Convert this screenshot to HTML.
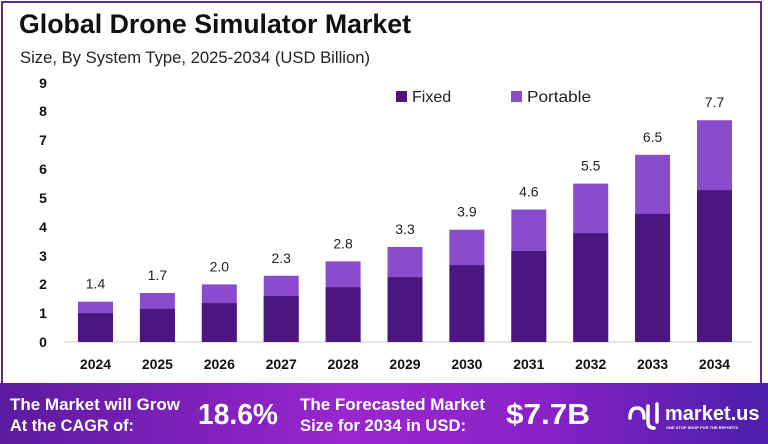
<!DOCTYPE html>
<html><head><meta charset="utf-8"><style>
body{margin:0;width:768px;height:444px;overflow:hidden;background:#fff;font-family:"Liberation Sans",sans-serif;}
.frame{position:absolute;left:1px;top:1px;width:761px;height:440px;border:2px solid #5b2a8c;box-sizing:border-box;}
</style></head><body>
<div class="frame"></div>
<svg width="768" height="444" style="position:absolute;left:0;top:0">
<defs>
<linearGradient id="bg" x1="0" x2="1" y1="0" y2="0">
<stop offset="0" stop-color="#5c1aa0"/><stop offset="0.45" stop-color="#9a26cf"/><stop offset="0.7" stop-color="#8a22c8"/><stop offset="1" stop-color="#4a1ea8"/>
</linearGradient>
</defs>
<text x="19" y="33" font-size="27" font-weight="bold" fill="#111" textLength="392" lengthAdjust="spacingAndGlyphs">Global Drone Simulator Market</text>
<text x="20" y="63" font-size="17" fill="#222" textLength="350" lengthAdjust="spacingAndGlyphs">Size, By System Type, 2025-2034 (USD Billion)</text>
<g font-size="14" font-weight="bold" fill="#111" text-anchor="middle">
<text x="43" y="347">0</text><text x="43" y="318">1</text><text x="43" y="289">2</text><text x="43" y="261">3</text><text x="43" y="232">4</text><text x="43" y="203">5</text><text x="43" y="174">6</text><text x="43" y="145">7</text><text x="43" y="116">8</text><text x="43" y="88">9</text>
</g>
<line x1="64" y1="342" x2="752" y2="342" stroke="#ccc" stroke-width="1"/>
<rect x="396" y="91" width="11" height="11" fill="#4c1680"/><text x="412" y="102" font-size="16" fill="#222">Fixed</text>
<rect x="511" y="91" width="11" height="11" fill="#8a4ccc"/><text x="527" y="102" font-size="16" fill="#222" textLength="64" lengthAdjust="spacingAndGlyphs">Portable</text>
<g id="bars"></g>
<rect x="0" y="383" width="768" height="61" fill="url(#bg)"/>
<g fill="#fff" font-weight="bold">
<text x="10" y="410" font-size="16.5" textLength="170" lengthAdjust="spacingAndGlyphs">The Market will Grow</text>
<text x="10" y="431" font-size="16.5" textLength="124" lengthAdjust="spacingAndGlyphs">At the CAGR of:</text>
<text x="198" y="424" font-size="29" textLength="80" lengthAdjust="spacingAndGlyphs">18.6%</text>
<text x="300" y="410" font-size="16.5" textLength="185" lengthAdjust="spacingAndGlyphs">The Forecasted Market</text>
<text x="300" y="431" font-size="16.5" textLength="166" lengthAdjust="spacingAndGlyphs">Size for 2034 in USD:</text>
<text x="506" y="424" font-size="29" textLength="84" lengthAdjust="spacingAndGlyphs">$7.7B</text>
<text x="665" y="420" font-size="20">market.us</text>
<text x="666" y="429" font-size="4">ONE STOP SHOP FOR THE REPORTS</text>
</g>
<path d="M630 418 q0-10 7-10 q7 0 7 10 M648 406 v16 q0 6 6 6 M657 404 v18" stroke="#fff" stroke-width="3.5" fill="none" stroke-linecap="round"/>
</svg>
<script>
var tot=[1.4,1.7,2.0,2.3,2.8,3.3,3.9,4.6,5.5,6.5,7.7],fx=[1.0,1.15,1.35,1.6,1.9,2.25,2.67,3.16,3.78,4.45,5.27];
var s='';for(var i=0;i<11;i++){var x=78+61.9*i,b=342,k=28.8;
s+='<rect x="'+x+'" y="'+(b-tot[i]*k)+'" width="35" height="'+(tot[i]*k)+'" fill="#8a4ccc"/>';
s+='<rect x="'+x+'" y="'+(b-fx[i]*k)+'" width="35" height="'+(fx[i]*k)+'" fill="#4c1680"/>';
s+='<text x="'+(x+17.5)+'" y="'+(b-tot[i]*k-13)+'" font-size="14" fill="#222" text-anchor="middle">'+tot[i].toFixed(1)+'</text>';
s+='<text x="'+(x+17.5)+'" y="369" font-size="14" font-weight="bold" fill="#111" text-anchor="middle">'+(2024+i)+'</text>';}
document.getElementById('bars').innerHTML=s;
</script>
</body></html>
